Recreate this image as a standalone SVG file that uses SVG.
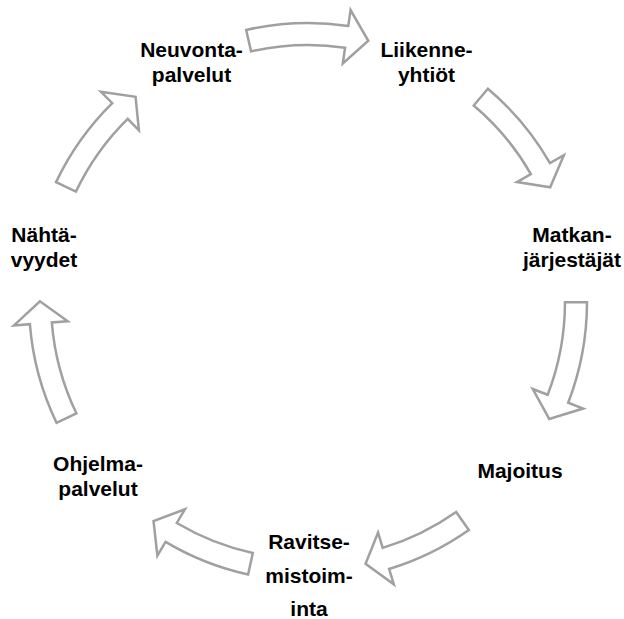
<svg xmlns="http://www.w3.org/2000/svg" xmlns:xlink="http://www.w3.org/1999/xlink" width="624" height="619" viewBox="0 0 624 619">
<style>
.lbl{font-family:"Liberation Sans",Arial,sans-serif;font-weight:bold;font-size:21px;fill:#000;text-anchor:middle}
.arr{fill:#fff;stroke:#a0a0a0;stroke-width:2.5;stroke-linejoin:miter}
</style>
<defs>
<path id="arcL" class="arr" d="M246.19,29.93 A279,279 0 0 1 348.28,25.92 L350.59,10.09 L368.3,40.8 L342.79,63.52 L345.10,47.69 A257,257 0 0 0 251.06,51.39 Z"/>
<path id="arcM" class="arr" d="M248.80,29.35 A279,279 0 0 1 345.62,25.55 L347.78,9.69 L364.86,40.10 L340.50,63.20 L342.66,47.35 A257,257 0 0 0 253.47,50.85 Z"/>
<path id="arcS" class="arr" d="M252.85,28.50 A279,279 0 0 1 341.52,25.02 L343.44,9.14 L360.97,39.29 L336.95,62.74 L338.88,46.86 A257,257 0 0 0 257.20,50.07 Z"/>
</defs>
<g id="connectors">
<use xlink:href="#arcL" href="#arcL"/>
<use xlink:href="#arcM" href="#arcM" transform="rotate(52.4 308 302)"/>
<use xlink:href="#arcL" href="#arcL" transform="rotate(102.86 308 302)"/>
<use xlink:href="#arcS" href="#arcS" transform="rotate(156.2 308 302)"/>
<use xlink:href="#arcS" href="#arcS" transform="rotate(203.8 308 302)"/>
<use xlink:href="#arcL" href="#arcL" transform="rotate(257.14 308 302)"/>
<use xlink:href="#arcM" href="#arcM" transform="rotate(307.7 308 302)"/>
</g>
<g id="neuvonta"><text class="lbl" x="191.5" y="56.5">Neuvonta-</text><text class="lbl" x="191.5" y="81.5">palvelut</text></g>
<g id="liikenne"><text class="lbl" x="426.5" y="56.5">Liikenne-</text><text class="lbl" x="426.5" y="81.5">yhtiöt</text></g>
<g id="matkan"><text class="lbl" x="572" y="242">Matkan-</text><text class="lbl" x="572" y="267">järjestäjät</text></g>
<g id="majoitus"><text class="lbl" x="520" y="478">Majoitus</text></g>
<g id="ravitse"><text class="lbl" x="309" y="549">Ravitse-</text><text class="lbl" x="309" y="583">mistoim-</text><text class="lbl" x="309" y="616">inta</text></g>
<g id="ohjelma"><text class="lbl" x="98" y="471">Ohjelma-</text><text class="lbl" x="98" y="496">palvelut</text></g>
<g id="nahta"><text class="lbl" x="44" y="242">Nähtä-</text><text class="lbl" x="44" y="267">vyydet</text></g>
</svg>
